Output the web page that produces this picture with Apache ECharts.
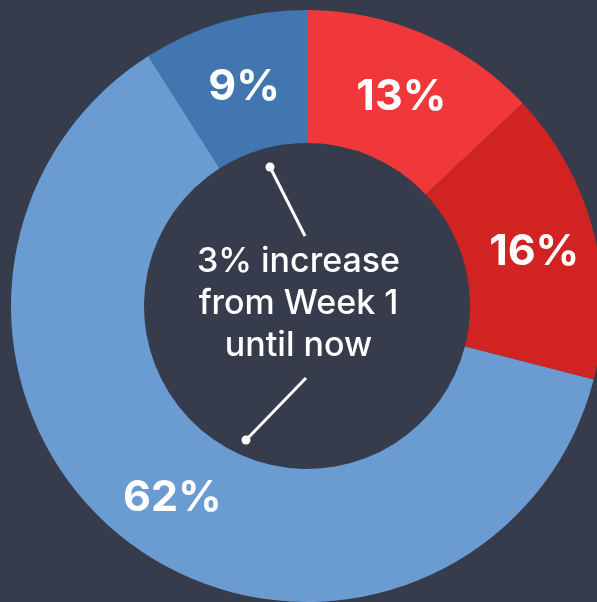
<!DOCTYPE html>
<html>
<head>
<meta charset="utf-8">
<script src="https://cdn.jsdelivr.net/npm/echarts@6/dist/echarts.min.js"></script>
<style>
html,body{margin:0;padding:0;background:#363c4c;}
#chart{width:597px;height:602px;}
</style>
</head>
<body>
<div id="chart"></div>
<script>
const categories = ['A', 'B', 'C', 'D'];
const values = [13, 16, 62, 9];
const labels = ['13%', '16%', '62%', '9%'];
const colors = ['#f0383a', '#d02322', '#6a9cd2', '#4176b1'];
const centerText = '3% increase\nfrom Week 1\nuntil now';

const chart = echarts.init(document.getElementById('chart'));
const cx = 307, cy = 306;
chart.setOption({
  backgroundColor: '#363c4c',
  animation: false,
  series: [{
    type: 'pie',
    center: [cx, cy],
    radius: [163, 296],
    startAngle: 90,
    clockwise: true,
    silent: true,
    label: {
      show: true,
      position: 'inside',
      color: '#ffffff',
      fontFamily: 'Inter',
      fontWeight: 700,
      fontSize: 43,
      offset: [2, 4],
      formatter: p => labels[p.dataIndex]
    },
    labelLine: {show: false},
    itemStyle: {borderWidth: 0},
    data: categories.map((c, i) => ({name: c, value: values[i], itemStyle: {color: colors[i]}}))
  }],
  graphic: [
    {type: 'text', left: 'center', top: 241, style: {
      text: centerText, fill: '#ffffff', font: '500 34px Inter', textAlign: 'center', lineHeight: 42
    }},
    {type: 'line', shape: {x1: 270, y1: 167, x2: 305, y2: 236}, style: {stroke: '#fff', lineWidth: 3}},
    {type: 'circle', shape: {cx: 270, cy: 167, r: 4.5}, style: {fill: '#fff'}},
    {type: 'line', shape: {x1: 306, y1: 378, x2: 246, y2: 440}, style: {stroke: '#fff', lineWidth: 3}},
    {type: 'circle', shape: {cx: 246, cy: 440, r: 4.5}, style: {fill: '#fff'}}
  ]
});
</script>
</body>
</html>
